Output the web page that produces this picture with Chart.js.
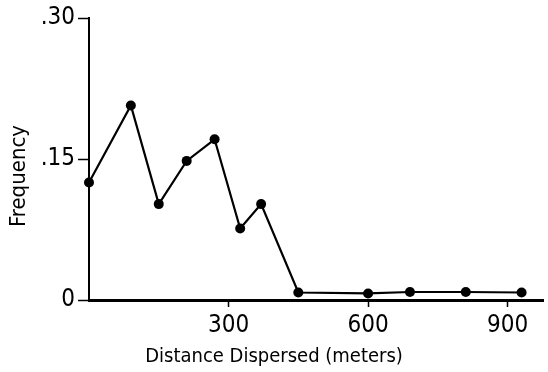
<!DOCTYPE html>
<html lang="en">
<head>
  <meta charset="UTF-8">
  <title>Distance Dispersed</title>
  <script src="https://cdn.jsdelivr.net/npm/chart.js"></script>
  <style>
    body { margin: 0; background: #fff; }
  </style>
</head>
<body>
  <canvas id="dispersalChart" width="548" height="372"></canvas>

  <script>
    // values
    const distances = [0, 90, 150, 210, 270, 325, 370, 450, 600, 690, 810, 930];
    const frequencies = [0.125, 0.207, 0.102, 0.148, 0.171, 0.076, 0.102, 0.008, 0.007, 0.0085, 0.0085, 0.008];
    const xTicks = [300, 600, 900];
    const yTicks = [0, 0.15, 0.30];
    const yTickLabels = ['0', '.15', '.30'];
    const xTitle = 'Distance Dispersed (meters)';
    const yTitle = 'Frequency';

    const points = distances.map((d, i) => ({ x: d, y: frequencies[i] }));
    const fontFamily = '"DejaVu Sans Condensed", "DejaVu Sans", sans-serif';

    // axis titles sit off-centre in the original, so draw them by hand
    const axisTitles = {
      id: 'axisTitles',
      afterDraw(chart) {
        const c = chart.ctx;
        c.save();
        c.fillStyle = '#000';
        c.textAlign = 'center';
        c.textBaseline = 'middle';
        c.font = '20px ' + fontFamily;
        c.fillText(xTitle, 274, 357);
        c.translate(19, 176);
        c.rotate(-Math.PI / 2);
        c.font = '22px ' + fontFamily;
        c.fillText(yTitle, 0, 0);
        c.restore();
      }
    };

    const ctx = document.getElementById('dispersalChart');
    new Chart(ctx, {
      type: 'line',
      data: {
        datasets: [{
          data: points,
          borderColor: '#000',
          borderWidth: 2.2,
          backgroundColor: '#000',
          pointRadius: 5,
          pointBorderWidth: 0,
          tension: 0,
          clip: false
        }]
      },
      options: {
        responsive: false,
        animation: false,
        layout: { padding: { top: 18, right: 0, left: 0, bottom: 0 } },
        plugins: {
          legend: { display: false },
          tooltip: { enabled: false }
        },
        scales: {
          x: {
            type: 'linear',
            min: 0,
            max: 976,
            afterBuildTicks: s => { s.ticks = xTicks.map(v => ({ value: v })); },
            afterFit: s => { s.height = 72; },
            border: { color: '#000', width: 3 },
            grid: { drawOnChartArea: false, tickLength: 7, tickColor: '#000', tickWidth: 1.5 },
            ticks: { color: '#000', padding: 4, font: { family: fontFamily, size: 24 } }
          },
          y: {
            min: 0,
            max: 0.30,
            afterBuildTicks: s => { s.ticks = yTicks.map(v => ({ value: v })); },
            afterFit: s => { s.width = 89; },
            border: { color: '#000', width: 2 },
            grid: { drawOnChartArea: false, tickLength: 11, tickColor: '#000', tickWidth: 1.5 },
            ticks: {
              color: '#000',
              padding: 3,
              font: { family: fontFamily, size: 24 },
              callback: (v, i) => yTickLabels[i]
            }
          }
        }
      },
      plugins: [axisTitles]
    });
  </script>
</body>
</html>
